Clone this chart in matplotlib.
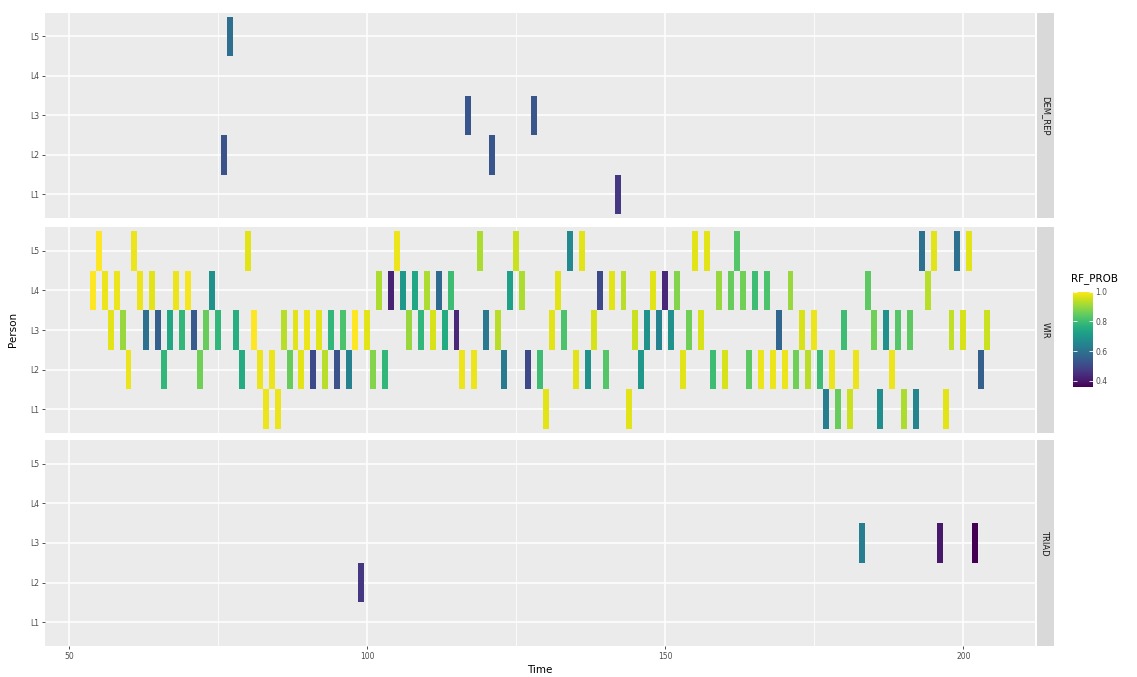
import matplotlib
matplotlib.use("Agg")
import matplotlib.pyplot as plt
import numpy as np
from matplotlib.colors import Normalize

# ---------------- data ----------------
persons = ["L1", "L2", "L3", "L4", "L5"]
panels = ["DEM_REP", "WIR", "TRIAD"]

dem_time = [76, 77, 117, 121, 128, 142]
dem_person = ["L2", "L5", "L3", "L2", "L3", "L1"]
dem_prob = [0.52, 0.59, 0.53, 0.53, 0.53, 0.46]

wir_time = [54, 55, 56, 57, 58, 59, 60, 61, 62, 63, 64, 65, 66, 67, 68, 69, 70, 71, 72, 73, 74, 75,
            78, 79, 80, 81, 82, 83, 84, 85, 86, 87, 88, 89, 90, 91, 92, 93, 94, 95, 96, 97, 98,
            100, 101, 102, 103, 104, 105, 106, 107, 108, 109, 110, 111, 112, 113, 114, 115, 116,
            118, 119, 120, 122, 123, 124, 125, 126, 127, 129, 130, 131, 132, 133, 134, 135, 136,
            137, 138, 139, 140, 141, 143, 144, 145, 146, 147, 148, 149, 150, 151, 152, 153, 154,
            155, 156, 157, 158, 159, 160, 161, 162, 163, 164, 165, 166, 167, 168, 169, 170, 171,
            172, 173, 174, 175, 176, 177, 178, 179, 180, 181, 182, 184, 185, 186, 187, 188, 189,
            190, 191, 192, 193, 194, 195, 197, 198, 199, 200, 201, 203, 204]
wir_person = ["L4", "L5", "L4", "L3", "L4", "L3", "L2", "L5", "L4", "L3", "L4", "L3", "L2", "L3",
              "L4", "L3", "L4", "L3", "L2", "L3", "L4", "L3",
              "L3", "L2", "L5", "L3", "L2", "L1", "L2", "L1", "L3", "L2", "L3", "L2", "L3", "L2",
              "L3", "L2", "L3", "L2", "L3", "L2", "L3",
              "L3", "L2", "L4", "L2", "L4", "L5", "L4", "L3", "L4", "L3", "L4", "L3", "L4", "L3",
              "L4", "L3", "L2",
              "L2", "L5", "L3", "L3", "L2", "L4", "L5", "L4", "L2", "L2", "L1", "L3", "L4", "L3",
              "L5", "L2", "L5",
              "L2", "L3", "L4", "L2", "L4", "L4", "L1", "L3", "L2", "L3", "L4", "L3", "L4", "L3",
              "L4", "L2", "L3",
              "L5", "L3", "L5", "L2", "L4", "L2", "L4", "L5", "L4", "L2", "L4", "L2", "L4", "L2",
              "L3", "L2", "L4",
              "L2", "L3", "L2", "L3", "L2", "L1", "L2", "L1", "L3", "L1", "L2", "L4", "L3", "L1",
              "L3", "L2", "L3",
              "L1", "L3", "L1", "L5", "L4", "L5", "L1", "L3", "L5", "L3", "L5", "L2", "L3"]
wir_prob = [1.00, 1.00, 0.98, 0.97, 0.98, 0.90, 0.98, 0.98, 0.98, 0.60, 0.97, 0.55, 0.78, 0.74,
            0.98, 0.78, 0.99, 0.54, 0.86, 0.85, 0.68, 0.78,
            0.76, 0.75, 0.97, 1.00, 0.98, 0.98, 0.98, 0.98, 0.93, 0.85, 0.97, 0.97, 0.98, 0.50,
            0.97, 0.93, 0.78, 0.52, 0.82, 0.64, 1.00,
            0.97, 0.88, 0.92, 0.78, 0.42, 0.98, 0.70, 0.90, 0.74, 0.78, 0.92, 0.96, 0.58, 0.75,
            0.80, 0.43, 0.98,
            0.98, 0.92, 0.62, 0.93, 0.62, 0.72, 0.95, 0.92, 0.50, 0.80, 0.97, 0.97, 0.97, 0.82,
            0.66, 0.97, 0.97,
            0.68, 0.96, 0.50, 0.83, 0.97, 0.93, 0.97, 0.95, 0.70, 0.68, 0.97, 0.64, 0.43, 0.68,
            0.88, 0.97, 0.86,
            0.97, 0.96, 0.97, 0.80, 0.90, 0.96, 0.85, 0.83, 0.86, 0.84, 0.80, 0.98, 0.82, 0.98,
            0.57, 0.98, 0.90,
            0.86, 0.96, 0.93, 0.98, 0.80, 0.63, 0.98, 0.85, 0.80, 0.95, 0.98, 0.84, 0.86, 0.67,
            0.68, 0.98, 0.83,
            0.92, 0.84, 0.65, 0.60, 0.93, 0.97, 0.97, 0.94, 0.60, 0.96, 0.97, 0.55, 0.95]

triad_time = [99, 183, 196, 202]
triad_person = ["L2", "L3", "L3", "L3"]
triad_prob = [0.46, 0.63, 0.40, 0.36]

x_ticks = [50, 100, 150, 200]
x_minor = [75, 125, 175]
cbar_ticks = [0.4, 0.6, 0.8, 1.0]
cbar_labels = ["0.4", "0.6", "0.8", "1.0"]

# ---------------- style ----------------
W, H = 1137, 677
fig = plt.figure(figsize=(W / 100, H / 100), dpi=100)
cmap = plt.get_cmap("viridis")
norm = Normalize(vmin=0.36, vmax=1.0)

PANEL_BG = "#EBEBEB"
STRIP_BG = "#D9D9D9"
TICK_TXT = "#4D4D4D"

def fx(px):
    return px / W

def fy(py):
    return 1 - py / H

panel_px = [(12.7, 218.0), (227.0, 433.0), (440.0, 646.0)]
left_px, right_px = 45.0, 1035.0
data = [(dem_time, dem_person, dem_prob),
        (wir_time, wir_person, wir_prob),
        (triad_time, triad_person, triad_prob)]

for i, (name, (top, bot), (tt, pp, pr)) in enumerate(zip(panels, panel_px, data)):
    ax = fig.add_axes([fx(left_px), fy(bot), fx(right_px - left_px), (bot - top) / H])
    ax.set_facecolor(PANEL_BG)
    for s in ax.spines.values():
        s.set_visible(False)
    ax.set_xlim(46.0, 212.0)
    ax.set_ylim(0.4, 5.6)
    ax.set_xticks(x_ticks)
    ax.set_xticks(x_minor, minor=True)
    ax.set_yticks(range(1, len(persons) + 1))
    ax.set_yticklabels(persons)
    ax.grid(which="major", color="white", linewidth=1.1)
    ax.grid(which="minor", axis="x", color="white", linewidth=0.55)
    ax.set_axisbelow(True)
    ax.tick_params(axis="both", which="major", length=2.5, width=0.6, color="#333333",
                   labelsize=5.5, labelcolor=TICK_TXT, pad=1.5)
    ax.tick_params(axis="x", which="minor", length=0)
    if i < 2:
        ax.tick_params(axis="x", which="major", length=0, labelbottom=False)

    ypos = [persons.index(p) + 1 for p in pp]
    ax.bar(tt, height=1.0, width=1.0, bottom=np.array(ypos) - 0.5,
           color=cmap(norm(np.array(pr))), linewidth=0, zorder=3)

    # strip
    sax = fig.add_axes([fx(1036.5), fy(bot), fx(17), (bot - top) / H])
    sax.set_facecolor(STRIP_BG)
    sax.set_xticks([])
    sax.set_yticks([])
    for s in sax.spines.values():
        s.set_visible(False)
    sax.text(0.5, 0.5, name, rotation=-90, ha="center", va="center",
             fontsize=6, color="#1A1A1A", transform=sax.transAxes)

    if i == 2:
        ax.set_xlabel("Time", fontsize=7.5, color="black", labelpad=3)

fig.text(fx(13), fy(329), "Person", rotation=90, ha="center", va="center",
         fontsize=7.5, color="black")

# ---------------- legend ----------------
cax = fig.add_axes([fx(1072.7), fy(386.7), fx(20), 95 / H])
sm = plt.cm.ScalarMappable(norm=norm, cmap=cmap)
cb = fig.colorbar(sm, cax=cax, ticks=cbar_ticks)
cb.ax.set_yticklabels(cbar_labels)
cb.outline.set_visible(False)
cax.tick_params(axis="y", direction="in", length=3, width=0.6, color="white",
                labelsize=5.5, labelcolor=TICK_TXT, pad=2, left=True, right=True)
fig.text(fx(1071), fy(279), "RF_PROB", ha="left", va="center", fontsize=7.5, color="black")

fig.savefig("out.png", dpi=100)
